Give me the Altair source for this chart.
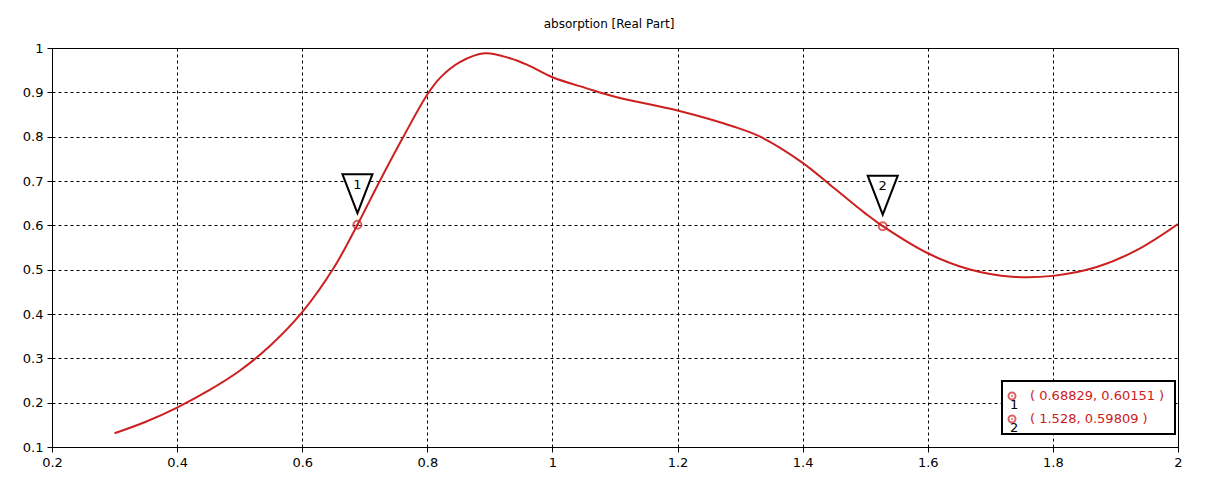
import altair as alt
import pandas as pd

# curve data
curve_x = [0.30, 0.35, 0.40, 0.45, 0.50, 0.55, 0.60, 0.65, 0.68829,
           0.724, 0.761, 0.80, 0.82, 0.852, 0.892, 0.932, 0.96, 1.0, 1.055, 1.1, 1.2,
           1.289, 1.332, 1.40, 1.45, 1.50, 1.528, 1.60, 1.666, 1.735, 1.80, 1.87,
           1.934, 2.0]
curve_y = [0.131, 0.157, 0.189, 0.227, 0.272, 0.330, 0.404, 0.503, 0.60151,
           0.700, 0.798, 0.895, 0.932, 0.968, 0.988, 0.977, 0.962, 0.934, 0.909, 0.890, 0.859,
           0.823, 0.80, 0.741, 0.684, 0.627, 0.59809, 0.537, 0.501, 0.484, 0.486, 0.506,
           0.544, 0.603]

# markers
marker_id = ["1", "2"]
marker_x = [0.68829, 1.528]
marker_y = [0.60151, 0.59809]
marker_text = ["( 0.68829, 0.60151 )", "( 1.528, 0.59809 )"]

title_text = "absorption [Real Part]"
x_ticks = [0.2, 0.4, 0.6, 0.8, 1.0, 1.2, 1.4, 1.6, 1.8, 2.0]
y_ticks = [0.1, 0.2, 0.3, 0.4, 0.5, 0.6, 0.7, 0.8, 0.9, 1.0]

RED = "#cc2020"
FONT = "DejaVu Sans"
W, H = 1126, 399
LEG_ROWS_PX = [348, 371]

curve = pd.DataFrame({"x": curve_x, "y": curve_y})
markers = pd.DataFrame({"id": marker_id, "x": marker_x, "y": marker_y, "label": marker_text})

xs = alt.Scale(domain=[0.2, 2.0], nice=False, zero=False)
ys = alt.Scale(domain=[0.1, 1.0], nice=False, zero=False)

common = dict(title=None, grid=True, gridColor="black", gridDash=[3, 3], gridWidth=1,
              gridOpacity=1, domainColor="black", domainWidth=1, tickColor="black",
              tickSize=5, labelColor="black", labelFont=FONT, labelFontSize=13,
              labelPadding=4, labelFlush=False, format="~g")
xax = alt.Axis(values=x_ticks, **common)
yax = alt.Axis(values=y_ticks, **common)

line = alt.Chart(curve).mark_line(color=RED, strokeWidth=2, interpolate="catmull-rom",
                                  clip=True).encode(
    x=alt.X("x:Q", scale=xs, axis=xax),
    y=alt.Y("y:Q", scale=ys, axis=yax),
)

bm = alt.Chart(markers)
enc = dict(x=alt.X("x:Q", scale=xs), y=alt.Y("y:Q", scale=ys))
ring = bm.mark_point(shape="circle", filled=False, color=RED, strokeWidth=2, size=64).encode(**enc)
dot = bm.mark_point(shape="circle", filled=True, color=RED, size=4, opacity=1).encode(**enc)
tri = bm.mark_point(shape="M -0.77 -1 L 0.77 -1 L 0 1 Z", filled=True, fill="white",
                    stroke="black", strokeWidth=2, size=1521, opacity=1, yOffset=-31).encode(**enc)
tri_txt = bm.mark_text(font=FONT, fontSize=13, color="black", yOffset=-40).encode(
    text="id:N", **enc)

title = alt.Chart(pd.DataFrame({"t": [title_text]})).mark_text(
    font=FONT, fontSize=12, color="black").encode(
    x=alt.value(557), y=alt.value(-24), text="t:N")

# legend box
box = alt.Chart(pd.DataFrame({"a": [0]})).mark_rect(
    fill="white", stroke="black", strokeWidth=2).encode(
    x=alt.value(950), x2=alt.value(1123), y=alt.value(333), y2=alt.value(386))

layers = [line, ring, dot, tri, tri_txt, title, box]
for i, (mid, lab) in enumerate(zip(marker_id, marker_text)):
    row = alt.Chart(pd.DataFrame({"id": [mid], "label": [lab]}))
    py = LEG_ROWS_PX[i]
    layers.append(row.mark_point(shape="circle", filled=False, color=RED, strokeWidth=2,
                                 size=49).encode(x=alt.value(960), y=alt.value(py)))
    layers.append(row.mark_point(shape="circle", filled=True, color=RED, size=3,
                                 opacity=1).encode(x=alt.value(960), y=alt.value(py)))
    layers.append(row.mark_text(font=FONT, fontSize=13, color="black", align="left").encode(
        x=alt.value(958), y=alt.value(py + 9), text="id:N"))
    layers.append(row.mark_text(font=FONT, fontSize=13, color=RED, align="left").encode(
        x=alt.value(978), y=alt.value(py), text="label:N"))

chart = alt.layer(*layers).properties(
    width=W, height=H,
    autosize=alt.AutoSizeParams(type="none"),
    padding={"left": 52, "top": 48, "right": 35, "bottom": 37},
    background="white",
).configure_view(stroke="black", strokeWidth=1)

chart.save("out.html", embed_options={"renderer": "svg", "actions": False})
